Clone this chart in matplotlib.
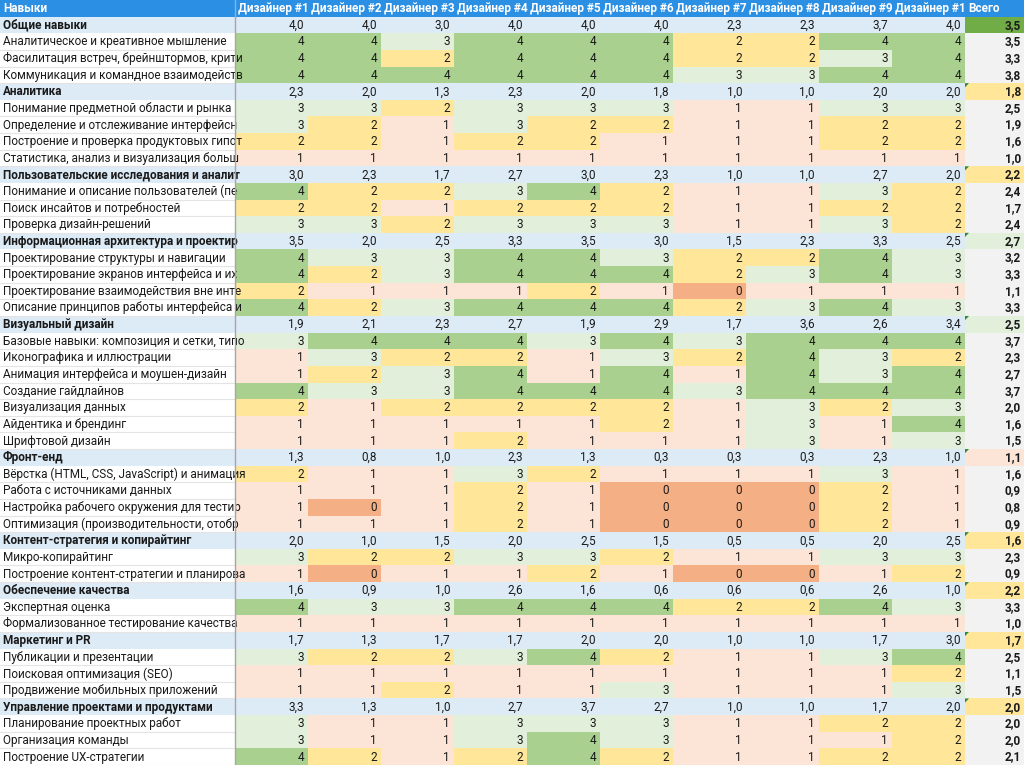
import matplotlib
matplotlib.use('Agg')
import matplotlib.pyplot as plt
from matplotlib.patches import Rectangle, Polygon

plt.rcParams['font.family'] = ['Roboto', 'DejaVu Sans']

# --- data ---
header_label = 'Навыки'
# the last header is cut by its cell in the sheet, so it reads "#1"
designers = ['Дизайнер #1', 'Дизайнер #2', 'Дизайнер #3', 'Дизайнер #4', 'Дизайнер #5',
             'Дизайнер #6', 'Дизайнер #7', 'Дизайнер #8', 'Дизайнер #9', 'Дизайнер #1']
total_label = 'Всего'

skills = [
    'Общие навыки',
    'Аналитическое и креативное мышление',
    'Фасилитация встреч, брейнштормов, крити',
    'Коммуникация и командное взаимодейств',
    'Аналитика',
    'Понимание предметной области и рынка',
    'Определение и отслеживание интерфейсн',
    'Построение и проверка продуктовых гипот',
    'Статистика, анализ и визуализация больш',
    'Пользовательские исследования и аналит',
    'Понимание и описание пользователей (пе',
    'Поиск инсайтов и потребностей',
    'Проверка дизайн-решений',
    'Информационная архитектура и проектир',
    'Проектирование структуры и навигации',
    'Проектирование экранов интерфейса и их',
    'Проектирование взаимодействия вне инте',
    'Описание принципов работы интерфейса и',
    'Визуальный дизайн',
    'Базовые навыки: композиция и сетки, типо',
    'Иконографика и иллюстрации',
    'Анимация интерфейса и моушен-дизайн',
    'Создание гайдлайнов',
    'Визуализация данных',
    'Айдентика и брендинг',
    'Шрифтовой дизайн',
    'Фронт-енд',
    'Вёрстка (HTML, CSS, JavaScript) и анимация',
    'Работа с источниками данных',
    'Настройка рабочего окружения для тестир',
    'Оптимизация (производительности, отобр',
    'Контент-стратегия и копирайтинг',
    'Микро-копирайтинг',
    'Построение контент-стратегии и планирова',
    'Обеспечение качества',
    'Экспертная оценка',
    'Формализованное тестирование качества',
    'Маркетинг и PR',
    'Публикации и презентации',
    'Поисковая оптимизация (SEO)',
    'Продвижение мобильных приложений',
    'Управление проектами и продуктами',
    'Планирование проектных работ',
    'Организация команды',
    'Построение UX-стратегии',
]

is_group = [1, 0, 0, 0,
            1, 0, 0, 0, 0,
            1, 0, 0, 0,
            1, 0, 0, 0, 0,
            1, 0, 0, 0, 0, 0, 0, 0,
            1, 0, 0, 0, 0,
            1, 0, 0,
            1, 0, 0,
            1, 0, 0, 0,
            1, 0, 0, 0]

scores = [
    [4.0, 4.0, 3.0, 4.0, 4.0, 4.0, 2.3, 2.3, 3.7, 4.0],
    [4, 4, 3, 4, 4, 4, 2, 2, 4, 4],
    [4, 4, 2, 4, 4, 4, 2, 2, 3, 4],
    [4, 4, 4, 4, 4, 4, 3, 3, 4, 4],
    [2.3, 2.0, 1.3, 2.3, 2.0, 1.8, 1.0, 1.0, 2.0, 2.0],
    [3, 3, 2, 3, 3, 3, 1, 1, 3, 3],
    [3, 2, 1, 3, 2, 2, 1, 1, 2, 2],
    [2, 2, 1, 2, 2, 1, 1, 1, 2, 2],
    [1, 1, 1, 1, 1, 1, 1, 1, 1, 1],
    [3.0, 2.3, 1.7, 2.7, 3.0, 2.3, 1.0, 1.0, 2.7, 2.0],
    [4, 2, 2, 3, 4, 2, 1, 1, 3, 2],
    [2, 2, 1, 2, 2, 2, 1, 1, 2, 2],
    [3, 3, 2, 3, 3, 3, 1, 1, 3, 2],
    [3.5, 2.0, 2.5, 3.3, 3.5, 3.0, 1.5, 2.3, 3.3, 2.5],
    [4, 3, 3, 4, 4, 3, 2, 2, 4, 3],
    [4, 2, 3, 4, 4, 4, 2, 3, 4, 3],
    [2, 1, 1, 1, 2, 1, 0, 1, 1, 1],
    [4, 2, 3, 4, 4, 4, 2, 3, 4, 3],
    [1.9, 2.1, 2.3, 2.7, 1.9, 2.9, 1.7, 3.6, 2.6, 3.4],
    [3, 4, 4, 4, 3, 4, 3, 4, 4, 4],
    [1, 3, 2, 2, 1, 3, 2, 4, 3, 2],
    [1, 2, 3, 4, 1, 4, 1, 4, 3, 4],
    [4, 3, 3, 4, 4, 4, 3, 4, 4, 4],
    [2, 1, 2, 2, 2, 2, 1, 3, 2, 3],
    [1, 1, 1, 1, 1, 2, 1, 3, 1, 4],
    [1, 1, 1, 2, 1, 1, 1, 3, 1, 3],
    [1.3, 0.8, 1.0, 2.3, 1.3, 0.3, 0.3, 0.3, 2.3, 1.0],
    [2, 1, 1, 3, 2, 1, 1, 1, 3, 1],
    [1, 1, 1, 2, 1, 0, 0, 0, 2, 1],
    [1, 0, 1, 2, 1, 0, 0, 0, 2, 1],
    [1, 1, 1, 2, 1, 0, 0, 0, 2, 1],
    [2.0, 1.0, 1.5, 2.0, 2.5, 1.5, 0.5, 0.5, 2.0, 2.5],
    [3, 2, 2, 3, 3, 2, 1, 1, 3, 3],
    [1, 0, 1, 1, 2, 1, 0, 0, 1, 2],
    [1.6, 0.9, 1.0, 2.6, 1.6, 0.6, 0.6, 0.6, 2.6, 1.0],
    [4, 3, 3, 4, 4, 4, 2, 2, 4, 3],
    [1, 1, 1, 1, 1, 1, 1, 1, 1, 1],
    [1.7, 1.3, 1.7, 1.7, 2.0, 2.0, 1.0, 1.0, 1.7, 3.0],
    [3, 2, 2, 3, 4, 2, 1, 1, 3, 4],
    [1, 1, 1, 1, 1, 1, 1, 1, 1, 2],
    [1, 1, 2, 1, 1, 3, 1, 1, 1, 3],
    [3.3, 1.3, 1.0, 2.7, 3.7, 2.7, 1.0, 1.0, 1.7, 2.0],
    [3, 1, 1, 3, 3, 3, 1, 1, 2, 2],
    [3, 1, 1, 3, 4, 3, 1, 1, 1, 2],
    [4, 2, 1, 2, 4, 2, 1, 1, 2, 2],
]

totals = [3.5, 3.5, 3.3, 3.8,
          1.8, 2.5, 1.9, 1.6, 1.0,
          2.2, 2.4, 1.7, 2.4,
          2.7, 3.2, 3.3, 1.1, 3.3,
          2.5, 3.7, 2.3, 2.7, 3.7, 2.0, 1.6, 1.5,
          1.1, 1.6, 0.9, 0.8, 0.9,
          1.6, 2.3, 0.9,
          2.2, 3.3, 1.0,
          1.7, 2.5, 1.1, 1.5,
          2.0, 2.0, 2.0, 2.1]

# --- styles ---
score_colors = {0: '#F4B084', 1: '#FCE4D6', 2: '#FFE699', 3: '#E2EFDA', 4: '#A9D08E'}
header_bg = '#2B8FE3'
group_bg = '#DDEBF7'
total_bg = '#F2F2F2'
text_color = '#1A1A1A'
fs = 8.5


def group_total_color(v):
    if v >= 3.0:
        return '#70AD47'
    if v >= 2.5:
        return '#E2EFDA'
    if v >= 1.5:
        return '#FFE699'
    return '#FCE4D6'


def fmt(v):
    return f'{v:.1f}'.replace('.', ',')


# column layout (pixels)
label_w = 235
col_w = 73
edges = [0, label_w] + [label_w + col_w * (i + 1) for i in range(len(designers))] + [1024]
n_rows = len(skills) + 1

fig = plt.figure(figsize=(10.24, 7.65), dpi=100)
ax = fig.add_axes([0, 0, 1, 1])
ax.set_xlim(0, 1024)
ax.set_ylim(n_rows, 0)
ax.axis('off')


def cell(c, r, color):
    ax.add_patch(Rectangle((edges[c], r), edges[c + 1] - edges[c], 1,
                           facecolor=color, edgecolor='none', zorder=1))


def clip_text(t, c, r):
    clip = Rectangle((edges[c], r), edges[c + 1] - edges[c], 1, transform=ax.transData)
    t.set_clip_path(clip)


# header
ax.add_patch(Rectangle((0, 0), 1024, 1, facecolor=header_bg, edgecolor='none', zorder=1))
headers = [header_label] + designers + [total_label]
for c, h in enumerate(headers):
    t = ax.text(edges[c] + 3, 0.52, h, color='white', fontweight='bold', fontsize=fs,
                ha='left', va='center', zorder=3)
    clip_text(t, c, 0)

# body
for i, name in enumerate(skills):
    r = i + 1
    grp = is_group[i]
    if grp:
        ax.add_patch(Rectangle((0, r), edges[-2], 1, facecolor=group_bg,
                               edgecolor='none', zorder=1))
        cell(len(edges) - 2, r, group_total_color(totals[i]))
    else:
        for j, v in enumerate(scores[i]):
            cell(j + 1, r, score_colors[int(v)])
        cell(len(edges) - 2, r, total_bg)
        ax.plot([0, label_w], [r + 1, r + 1], color='#E4E4E4', lw=0.8, zorder=2)

    t = ax.text(3, r + 0.52, name, fontsize=fs, color=text_color, ha='left', va='center',
                fontweight='bold' if grp else 'normal', zorder=3)
    clip_text(t, 0, r)

    for j, v in enumerate(scores[i]):
        s = fmt(v) if grp else str(int(v))
        ax.text(edges[j + 2] - 4, r + 0.52, s, fontsize=fs, color=text_color,
                ha='right', va='center', zorder=3)

    ax.text(edges[-1] - 3, r + 0.52, fmt(totals[i]), fontsize=fs, color=text_color,
            fontweight='bold', ha='right', va='center', zorder=3)

    # little green marker in the corner of group totals
    if grp and i > 0:
        x0 = edges[-2]
        ax.add_patch(Polygon([[x0, r], [x0 + 4, r], [x0, r + 0.25]], closed=True,
                             facecolor='#2E8B3A', edgecolor='none', zorder=4))

# vertical divider after the label column
ax.plot([label_w, label_w], [1, n_rows], color='#A6A6A6', lw=1, zorder=4)
ax.plot([label_w, label_w], [0, 1], color='#7DB8EC', lw=1, zorder=4)

fig.savefig('out.png', dpi=100)
